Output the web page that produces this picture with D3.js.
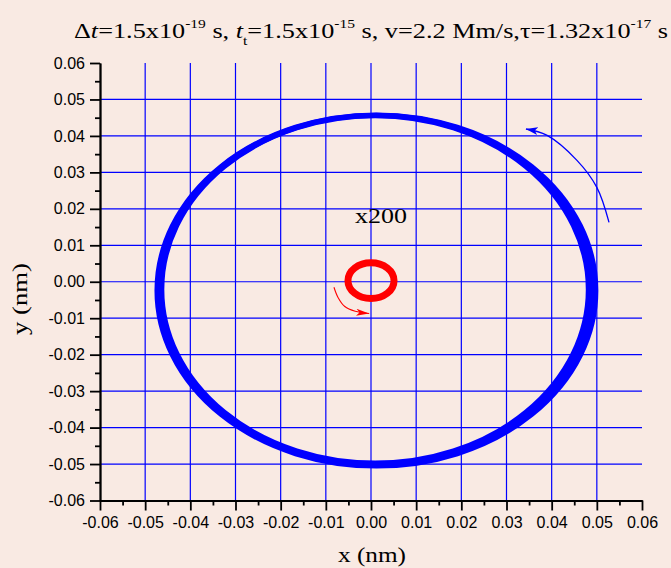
<!DOCTYPE html>
<html>
<head>
<meta charset="utf-8">
<script src="https://cdn.jsdelivr.net/npm/d3@7"></script>
<style>
	body { margin: 0; background: #f9eae3; }
	svg { display: block; }
</style>
</head>
<body>
<div id="chart"></div>
<script>
// axis ticks (nm)
const majorTicks = [-0.06, -0.05, -0.04, -0.03, -0.02, -0.01, 0, 0.01, 0.02, 0.03, 0.04, 0.05, 0.06];
const xTickLabels = ['-0.06', '-0.05', '-0.04', '-0.03', '-0.02', '-0.01', '0.00', '0.01', '0.02', '0.03', '0.04', '0.05', '0.06'];
const yTickLabels = ['-0.06', '-0.05', '-0.04', '-0.03', '-0.02', '-0.01', '0.00', '0.01', '0.02', '0.03', '0.04', '0.05', '0.06'];
const minorTicks = [-0.055, -0.045, -0.035, -0.025, -0.015, -0.005, 0.005, 0.015, 0.025, 0.035, 0.045, 0.055];
const gridTicks = [-0.05, -0.04, -0.03, -0.02, -0.01, 0, 0.01, 0.02, 0.03, 0.04, 0.05];

// blue trajectory (x200): overlapping orbits, centre and radii
const blueCx = [0.0009, 0.0010, 0.0011, 0.0011, 0.0012];
const blueCy = [-0.0021, -0.0022, -0.0022, -0.0023, -0.0024];
const blueRx = [0.0471, 0.0475, 0.0479, 0.0483, 0.0487];
const blueRy = [0.0475, 0.0477, 0.0479, 0.0481, 0.0483];

// red trajectory (actual size)
const redCx = [0.0000];
const redCy = [0.0003];
const redRx = [0.0051];
const redRy = [0.0049];

// direction arrows
const blueArrowX = [0.0527, 0.0500, 0.0456, 0.0389, 0.0343];
const blueArrowY = [0.0163, 0.0259, 0.0333, 0.0402, 0.0419];
const redArrowX = [-0.0082, -0.0073, -0.0058, -0.0035, -0.0004];
const redArrowY = [-0.0015, -0.0043, -0.0068, -0.0081, -0.0087];

const width = 671, height = 568;
const svg = d3.select('#chart').append('svg')
	.attr('width', width)
	.attr('height', height);

svg.append('rect')
	.attr('width', width)
	.attr('height', height)
	.attr('fill', '#f9eae3');

var x = d3.scaleLinear().domain([-0.06, 0.06]).range([100, 642]);
var y = d3.scaleLinear().domain([-0.06, 0.06]).range([500.5, 63]);

// grid
var grid = svg.append('g').attr('stroke', '#0000ff').attr('stroke-width', 1.2);
grid.selectAll('.gx')
	.data(gridTicks)
	.enter()
	.append('line')
	.attr('x1', d => x(d)).attr('x2', d => x(d))
	.attr('y1', y(-0.06)).attr('y2', y(0.06));
grid.selectAll('.gy')
	.data(gridTicks)
	.enter()
	.append('line')
	.attr('y1', d => y(d)).attr('y2', d => y(d))
	.attr('x1', x(-0.06)).attr('x2', x(0.06));

function drawOrbits(cxs, cys, rxs, rys, color, sw) {
	var g = svg.append('g');
	g.selectAll('ellipse')
		.data(cxs.map((d, i) => [d, cys[i], rxs[i], rys[i]]))
		.enter()
		.append('ellipse')
		.attr('cx', d => x(d[0]))
		.attr('cy', d => y(d[1]))
		.attr('rx', d => x(d[2]) - x(0))
		.attr('ry', d => y(0) - y(d[3]))
		.attr('fill', 'none')
		.attr('stroke', color)
		.attr('stroke-width', sw);
}
drawOrbits(blueCx, blueCy, blueRx, blueRy, '#0000ff', 4);
drawOrbits(redCx, redCy, redRx, redRy, '#ff0000', 7);

// arrow heads
var defs = svg.append('defs');
function marker(id, color, len, wid) {
	defs.append('marker')
		.attr('id', id)
		.attr('markerUnits', 'userSpaceOnUse')
		.attr('markerWidth', len)
		.attr('markerHeight', wid)
		.attr('refX', len)
		.attr('refY', wid / 2)
		.attr('orient', 'auto')
		.append('path')
		.attr('d', `M0,0L${len},${wid / 2}L0,${wid}L${len * 0.25},${wid / 2}Z`)
		.attr('fill', color);
}
marker('blueHead', '#0000ff', 12, 8);
marker('redHead', '#ff0000', 13, 7);

var line = d3.line().x(d => x(d[0])).y(d => y(d[1])).curve(d3.curveCatmullRom);
svg.append('path')
	.attr('d', line(blueArrowX.map((d, i) => [d, blueArrowY[i]])))
	.attr('fill', 'none')
	.attr('stroke', '#0000ff')
	.attr('stroke-width', 1.3)
	.attr('marker-end', 'url(#blueHead)');
svg.append('path')
	.attr('d', line(redArrowX.map((d, i) => [d, redArrowY[i]])))
	.attr('fill', 'none')
	.attr('stroke', '#ff0000')
	.attr('stroke-width', 1.1)
	.attr('marker-end', 'url(#redHead)');

// axes
function styleAxis(g) {
	g.selectAll('path, line').attr('stroke', '#000').attr('stroke-width', 1.8);
	g.selectAll('text')
		.attr('fill', '#000')
		.attr('font-family', '"Liberation Sans", Arial, sans-serif')
		.attr('font-size', 16);
}
svg.append('g')
	.attr('transform', `translate(0,${y(-0.06)})`)
	.call(d3.axisBottom(x).tickValues(minorTicks).tickSize(5).tickSizeOuter(0).tickFormat(''))
	.call(styleAxis);
svg.append('g')
	.attr('transform', `translate(0,${y(-0.06)})`)
	.call(d3.axisBottom(x).tickValues(majorTicks).tickSize(10).tickSizeOuter(0).tickPadding(6)
		.tickFormat((d, i) => xTickLabels[i]))
	.call(styleAxis);
svg.append('g')
	.attr('transform', `translate(${x(-0.06)},0)`)
	.call(d3.axisLeft(y).tickValues(minorTicks).tickSize(5).tickSizeOuter(0).tickFormat(''))
	.call(styleAxis);
svg.append('g')
	.attr('transform', `translate(${x(-0.06)},0)`)
	.call(d3.axisLeft(y).tickValues(majorTicks).tickSize(10).tickSizeOuter(0).tickPadding(5)
		.tickFormat((d, i) => yTickLabels[i]))
	.call(styleAxis);

// texts
const serif = '"Liberation Serif", "Times New Roman", serif';
svg.append('text')
	.attr('x', 372).attr('y', 562)
	.attr('text-anchor', 'middle')
	.attr('font-family', serif).attr('font-size', 22)
	.attr('textLength', 68).attr('lengthAdjust', 'spacingAndGlyphs')
	.text('x (nm)');
svg.append('text')
	.attr('transform', 'translate(27,299) rotate(-90)')
	.attr('text-anchor', 'middle')
	.attr('font-family', serif).attr('font-size', 22)
	.attr('textLength', 72).attr('lengthAdjust', 'spacingAndGlyphs')
	.text('y (nm)');
svg.append('text')
	.attr('x', 355).attr('y', 223)
	.attr('font-family', serif).attr('font-size', 22)
	.attr('textLength', 52).attr('lengthAdjust', 'spacingAndGlyphs')
	.text('x200');

var title = svg.append('text')
	.attr('x', 74).attr('y', 38)
	.attr('font-family', serif).attr('font-size', 22)
	.attr('textLength', 594).attr('lengthAdjust', 'spacingAndGlyphs');
const titleParts = [
	['Δ', ''], ['t', 'i'], ['=1.5x10', ''], ['-19', 'sup'], [' s, ', ''],
	['t', 'i'], ['t', 'sub'], ['=1.5x10', ''], ['-15', 'sup'], [' s, v=2.2 Mm/s,τ=1.32x10', ''],
	['-17', 'sup'], [' s', '']
];
titleParts.forEach((p, i) => {
	var t = title.append('tspan').text(p[0]);
	if (p[1] == 'i') t.attr('font-style', 'italic');
	if (p[1] == 'sup') t.attr('font-size', 13).attr('dy', -10);
	if (p[1] == 'sub') t.attr('font-size', 13).attr('dy', 7);
	// drop back to the baseline after a raised/lowered part
	if (i > 0) {
		var prev = titleParts[i - 1][1];
		if (prev == 'sup') t.attr('dy', 10);
		if (prev == 'sub') t.attr('dy', -7);
	}
});
</script>
</body>
</html>
